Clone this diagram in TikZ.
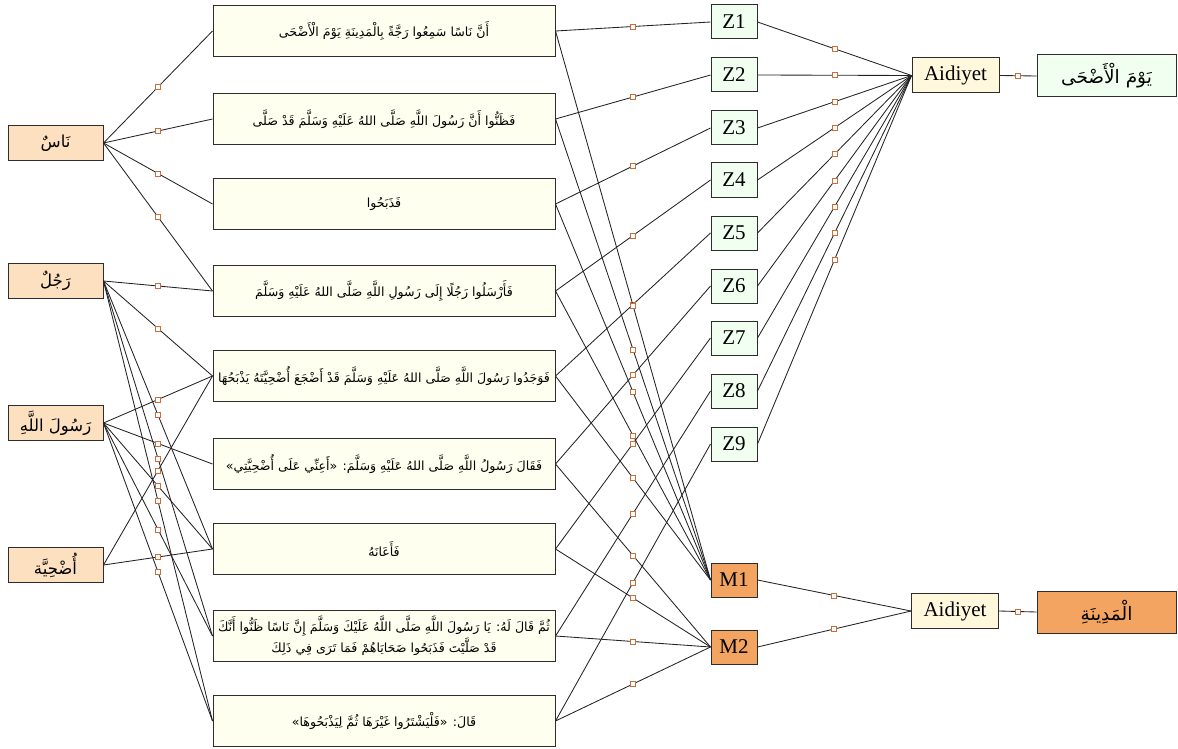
\documentclass[tikz,border=0pt]{standalone}
\usepackage{fontspec}
\TeXXeTstate=1
\setmainfont{Liberation Serif}
\newfontfamily\arabicfont[Script=Arabic]{DejaVu Sans}
\definecolor{entityfill}{RGB}{253,224,192}
\definecolor{clausefill}{RGB}{255,255,240}
\definecolor{timefill}{RGB}{240,255,240}
\definecolor{placefill}{RGB}{242,164,96}
\definecolor{relfill}{RGB}{255,248,220}
\definecolor{boxline}{RGB}{45,45,45}
\definecolor{edgeline}{RGB}{35,35,35}
\definecolor{markline}{RGB}{200,110,60}
\newcommand{\ar}[1]{{\arabicfont\beginR #1\endR}}
\begin{document}
\begin{tikzpicture}[x=1pt,y=-1pt,
  base/.style={draw=boxline, line width=1pt, inner sep=0pt, align=center},
  entity/.style={base, fill=entityfill, minimum width=95pt, minimum height=35pt, font=\fontsize{16.5}{18}\selectfont},
  clause/.style={base, fill=clausefill, minimum width=342pt, minimum height=51pt, font=\fontsize{12.6}{16}\selectfont},
  tnode/.style={base, fill=timefill, minimum width=46pt, minimum height=34pt, font=\fontsize{21}{23}\selectfont},
  pnode/.style={base, fill=placefill, minimum width=46pt, minimum height=34pt, font=\fontsize{21}{23}\selectfont},
  rel/.style={base, fill=relfill, minimum width=87pt, minimum height=35pt, font=\fontsize{21}{23}\selectfont},
  target/.style={base, minimum width=139pt, minimum height=42pt, font=\fontsize{18.5}{20}\selectfont},
  link/.style={draw=edgeline, line width=0.85pt},
  mk/.style={draw=markline, fill=white, line width=0.65pt, rectangle, inner sep=0pt, minimum size=5pt}
]
\useasboundingbox (0,0) rectangle (1178,749);

% participants
\node[entity] (nas)   at (55.5,143) {\ar{نَاسٌ}};
\node[entity] (rajul) at (55.5,281) {\ar{رَجُلٌ}};
\node[entity] (rasul) at (55.5,423) {\ar{رَسُولَ اللَّهِ}};
\node[entity] (udh)   at (55.5,565) {\ar{أُضْحِيَّة}};

% clauses
\node[clause] (c1) at (384,31)  {\ar{أَنَّ نَاسًا سَمِعُوا رَجَّةً بِالْمَدِينَةِ يَوْمَ الْأَضْحَى}};
\node[clause] (c2) at (384,119) {\ar{فَظَنُّوا أَنَّ رَسُولَ اللَّهِ صَلَّى اللهُ عَلَيْهِ وَسَلَّمَ قَدْ صَلَّى}};
\node[clause] (c3) at (384,204) {\ar{فَذَبَحُوا}};
\node[clause] (c4) at (384,291) {\ar{فَأَرْسَلُوا رَجُلًا إِلَى رَسُولِ اللَّهِ صَلَّى اللهُ عَلَيْهِ وَسَلَّمَ}};
\node[clause] (c5) at (384,376) {\ar{فَوَجَدُوا رَسُولَ اللَّهِ صَلَّى اللهُ عَلَيْهِ وَسَلَّمَ قَدْ أَضْجَعَ أُضْحِيَّتَهُ يَذْبَحُهَا}};
\node[clause] (c6) at (384,464) {\ar{فَقَالَ رَسُولُ اللَّهِ صَلَّى اللهُ عَلَيْهِ وَسَلَّمَ: «أَعِنِّي عَلَى أُضْحِيَّتِي»}};
\node[clause] (c7) at (384,549) {\ar{فَأَعَانَهُ}};
\node[clause] (c8) at (384,636) {\ar{ثُمَّ قَالَ لَهُ: يَا رَسُولَ اللَّهِ صَلَّى اللَّهُ عَلَيْكَ وَسَلَّمَ إِنَّ نَاسًا ظَنُّوا أَنَّكَ}\\\ar{قَدْ صَلَّيْتَ فَذَبَحُوا ضَحَايَاهُمْ فَمَا تَرَى فِي ذَلِكَ}};
\node[clause] (c9) at (384,721) {\ar{قَالَ: «فَلْيَشْتَرُوا غَيْرَهَا ثُمَّ لِيَذْبَحُوهَا»}};

% time slots
\foreach \i/\y in {1/22,2/75,3/128,4/180,5/233,6/286,7/338,8/391,9/444}
  \node[tnode] (z\i) at (734,\y) {Z\i};
% place slots
\node[pnode] (m1) at (734,580) {M1};
\node[pnode] (m2) at (734,647) {M2};

% relations and their targets
\node[rel] (aid1) at (955.5,75.5) {Aidiyet};
\node[rel] (aid2) at (955,611) {Aidiyet};
\node[target, fill=timefill]  (yawm)   at (1106.5,76)  {\ar{يَوْمَ الْأَضْحَى}};
\node[target, fill=placefill] (madina) at (1106.5,612) {\ar{الْمَدِينَةِ}};

% participants -> clauses
\foreach \a/\b in {nas/c1,nas/c2,nas/c3,nas/c4,
                   rajul/c4,rajul/c5,rajul/c7,rajul/c8,rajul/c9,
                   rasul/c5,rasul/c6,rasul/c7,rasul/c8,rasul/c9,
                   udh/c5,udh/c7}
  \path[link] (\a.east) -- (\b.west) node[mk, pos=.5] {};

% clauses -> time slots
\foreach \i in {1,...,9}
  \path[link] (c\i.east) -- (z\i.west) node[mk, pos=.5] {};

% clauses -> place slots
\foreach \c/\m in {c1/m1,c2/m1,c3/m1,c4/m1,c5/m1,c6/m2,c7/m2,c8/m2,c9/m2}
  \path[link] (\c.east) -- (\m.west) node[mk, pos=.5] {};

% slots -> relations
\foreach \i in {1,...,9}
  \path[link] (z\i.east) -- (aid1.west) node[mk, pos=.5] {};
\path[link] (m1.east) -- (aid2.west) node[mk, pos=.5] {};
\path[link] (m2.east) -- (aid2.west) node[mk, pos=.5] {};
\path[link] (aid1.east) -- (yawm.west) node[mk, pos=.5] {};
\path[link] (aid2.east) -- (madina.west) node[mk, pos=.5] {};
\end{tikzpicture}
\end{document}
